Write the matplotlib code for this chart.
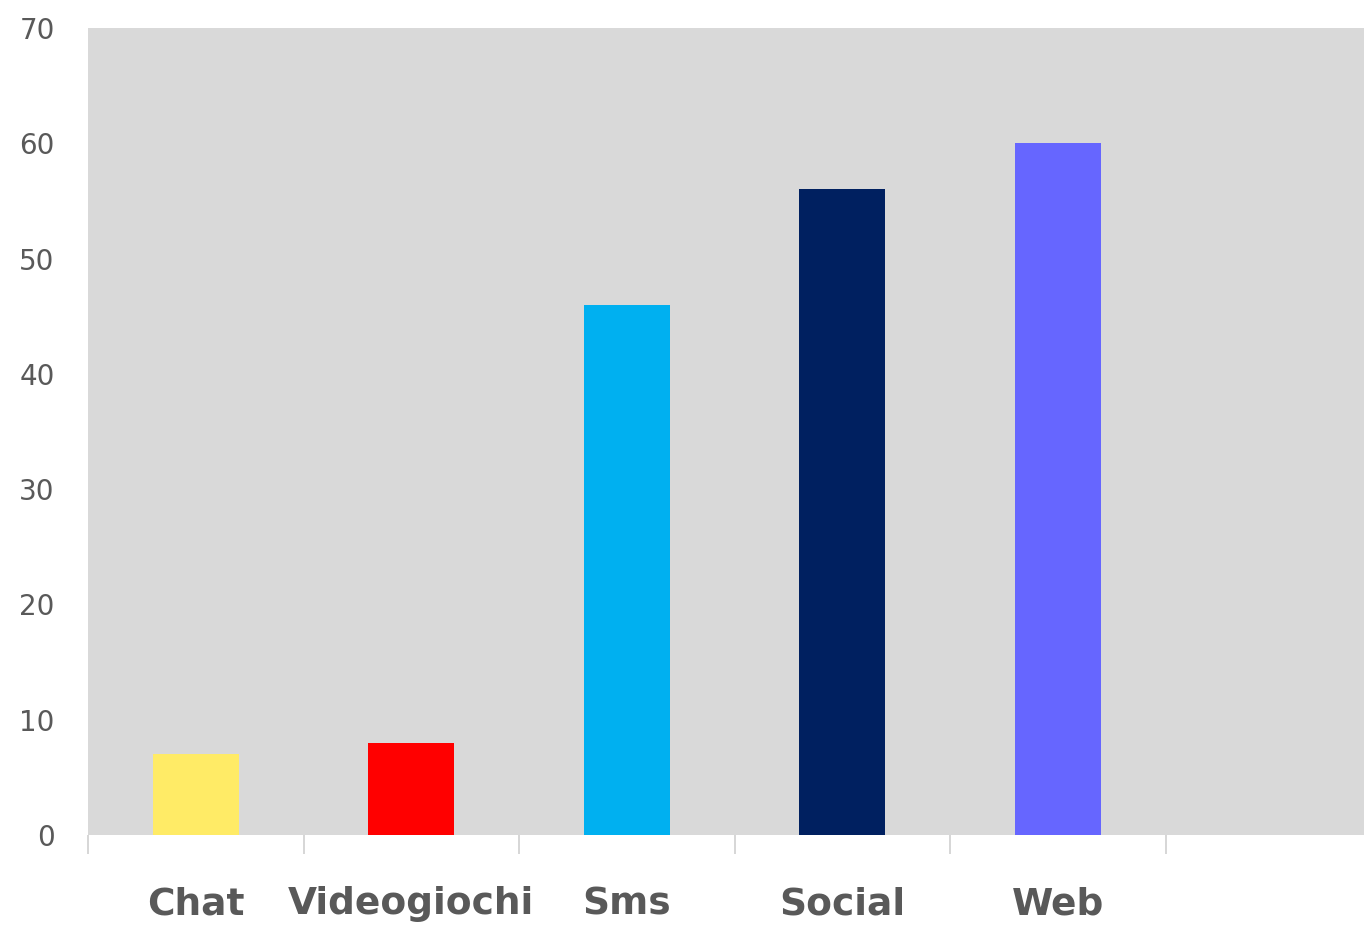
import numpy as np
import matplotlib.pyplot as plt

categories = ["Chat", "Videogiochi", "Sms", "Social", "Web"]
values = [7, 8, 46, 56, 60]
colors = ["#FFEB66", "#FF0000", "#00B0F0", "#002060", "#6666FF"]

fig = plt.figure(figsize=(13.64, 9.32), dpi=100)
ax = fig.add_axes([0.0645, 0.104, 0.9355, 0.866])
ax.set_facecolor("#D9D9D9")

x = np.arange(len(categories))
ax.bar(x, values, width=0.40, color=colors, zorder=2)

ax.set_xlim(-0.5, 5.42)
ax.set_ylim(0, 70)
ax.set_yticks(np.arange(0, 71, 10))
ax.tick_params(axis="y", length=0, pad=24, labelsize=20, labelcolor="#595959")

# category boundaries get the small tick marks, names sit under the bars
ax.set_xticks(np.arange(-0.5, 5.0, 1.0))
ax.set_xticklabels([])
ax.tick_params(axis="x", which="major", length=14, width=1.2, color="#D0D0D0")
ax.set_xticks(x, minor=True)
ax.set_xticklabels(categories, minor=True, fontsize=27, fontweight="bold", color="#595959")
ax.tick_params(axis="x", which="minor", length=0, pad=37)

for s in ax.spines.values():
    s.set_visible(False)

fig.savefig("out.png", dpi=100)
